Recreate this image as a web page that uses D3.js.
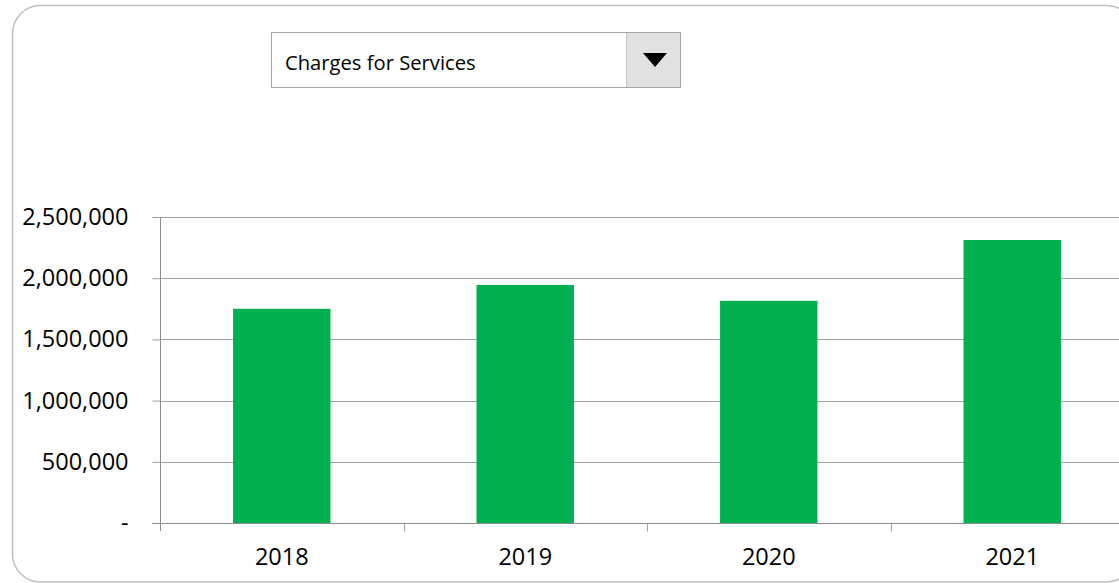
<!DOCTYPE html>
<html>
<head>
<meta charset="utf-8">
<script src="https://cdn.jsdelivr.net/npm/d3@7"></script>
<style>
  html, body { margin: 0; padding: 0; background: #fff; }
  svg { display: block; }
  text { font-family: "Open Sans", "Noto Sans", sans-serif; fill: #000; }
</style>
</head>
<body>
<svg id="chart" width="1119" height="583"></svg>
<script>
const categories = ["2018", "2019", "2020", "2021"];
const values = [1750000, 1945000, 1815000, 2312000];
const yTickValues = [0, 500000, 1000000, 1500000, 2000000, 2500000];
const selectedMeasure = "Charges for Services";

const svg = d3.select("#chart");
const W = 1119, H = 583;

// outer rounded frame
svg.append("rect")
  .attr("x", 12.5).attr("y", 5.5)
  .attr("width", 1122).attr("height", 576.5)
  .attr("rx", 28).attr("ry", 28)
  .attr("fill", "#fff")
  .attr("stroke", "#bfbfbf").attr("stroke-width", 1.5);

// dropdown
const dd = svg.append("g");
dd.append("rect").attr("x", 271.5).attr("y", 32.5).attr("width", 409).attr("height", 55)
  .attr("fill", "#fff").attr("stroke", "#a6a6a6").attr("stroke-width", 1);
dd.append("rect").attr("x", 627).attr("y", 33).attr("width", 53).attr("height", 54)
  .attr("fill", "#e1e1e1");
dd.append("line").attr("x1", 626.5).attr("x2", 626.5).attr("y1", 33).attr("y2", 87)
  .attr("stroke", "#c8c8c8");
dd.append("path").attr("d", "M643,53 L667,53 L655,67 Z").attr("fill", "#000");
dd.append("text").attr("x", 285).attr("y", 70)
  .attr("font-size", 20.2).text(selectedMeasure);

// scales
const x = d3.scaleBand().domain(categories).range([160, 1134]).paddingInner(0.6).paddingOuter(0.3);
const y = d3.scaleLinear().domain([0, 2500000]).range([523, 217]);

// gridlines
svg.append("g").selectAll("line").data(yTickValues.filter(d => d > 0)).join("line")
  .attr("x1", 160).attr("x2", W)
  .attr("y1", d => Math.round(y(d)) + 0.5).attr("y2", d => Math.round(y(d)) + 0.5)
  .attr("stroke", "#a0a0a0").attr("stroke-width", 1);

// bars
svg.append("g").selectAll("rect").data(categories).join("rect")
  .attr("x", d => x(d))
  .attr("width", x.bandwidth())
  .attr("y", (d, i) => y(values[i]))
  .attr("height", (d, i) => y(0) - y(values[i]))
  .attr("fill", "#00b050");

// y axis
const fmt = d => d === 0 ? "-" : d3.format(",")(d);
const yAxis = svg.append("g").attr("transform", "translate(160.5,0)")
  .call(d3.axisLeft(y).tickValues(yTickValues).tickFormat(fmt).tickSize(8).tickPadding(24));
yAxis.select(".domain").attr("stroke", "#8c8c8c").attr("d", "M0,217V531");
yAxis.selectAll(".tick line").attr("stroke", "#a0a0a0");
yAxis.selectAll(".tick text").attr("font-size", 23.5).attr("fill", "#000")
  .attr("font-family", "'Open Sans', sans-serif");

// x axis
const xAxis = svg.append("g").attr("transform", "translate(0,523.5)")
  .call(d3.axisBottom(x).tickSize(0).tickPadding(25));
xAxis.select(".domain").attr("stroke", "#8c8c8c").attr("d", "M152,0H" + W);
xAxis.selectAll(".tick text").attr("font-size", 23.5).attr("fill", "#000")
  .attr("font-family", "'Open Sans', sans-serif");
// category separators
const step = x.step();
const seps = d3.range(1, categories.length + 1).map(i => 160 + i * step);
xAxis.append("g").selectAll("line").data(seps).join("line")
  .attr("x1", d => Math.round(d) + 0.5).attr("x2", d => Math.round(d) + 0.5)
  .attr("y1", 0).attr("y2", 8).attr("stroke", "#a0a0a0");
</script>
</body>
</html>
